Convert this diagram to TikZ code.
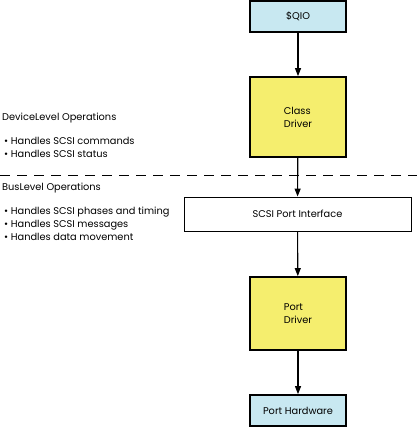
\documentclass[tikz,border=0pt]{standalone}
\usepackage{fontspec}
\setmainfont{Poppins}
\usetikzlibrary{arrows.meta}
\definecolor{hwblue}{RGB}{200,232,241}
\definecolor{drvyellow}{RGB}{245,238,110}

\begin{document}
\begin{tikzpicture}[x=1pt,y=-1pt,
  every node/.style={font=\fontsize{9.8}{13}\selectfont},
  heavybox/.style={draw,line width=1.8pt,inner sep=0pt,minimum width=96pt},
  thinbox/.style={draw,line width=0.9pt,inner sep=0pt},
  flow/.style={-{Triangle[length=8pt,width=6pt]},line width=1.1pt},
  opstext/.style={anchor=west,align=left,inner sep=0pt}]
\useasboundingbox (0,0) rectangle (417,428);
% driver stack
\node[heavybox,fill=hwblue,minimum height=31pt] (qio) at (298,16.5) {\$QIO};
\node[heavybox,fill=drvyellow,minimum height=80pt,align=left] (classdrv) at (298,117) {Class\\Driver};
\node[thinbox,fill=white,minimum width=227pt,minimum height=34pt] (portif) at (297.5,214) {SCSI Port Interface};
\node[heavybox,fill=drvyellow,minimum height=73pt,align=left] (portdrv) at (298,313.5) {Port\\Driver};
\node[heavybox,fill=hwblue,minimum height=31pt] (porthw) at (298,410.5) {Port Hardware};
% level divider
\draw[line width=0.9pt,dash pattern=on 10pt off 7pt] (0,175) -- (417,175);
% operations
\node[opstext] (devhead) at (2,118) {DeviceLevel Operations};
\node[opstext] (devlist) at (4,147.5) {\textbullet\ Handles SCSI commands\\\textbullet\ Handles SCSI status};
\node[opstext] (bushead) at (2,188) {BusLevel Operations};
\node[opstext] (buslist) at (4,224) {\textbullet\ Handles SCSI phases and timing\\\textbullet\ Handles SCSI messages\\\textbullet\ Handles data movement};
% arrows
\draw[flow] (qio) -- (classdrv);
\draw[flow] (classdrv) -- (portif);
\draw[flow] (portif) -- (portdrv);
\draw[flow] (portdrv) -- (porthw);
\end{tikzpicture}
\end{document}
